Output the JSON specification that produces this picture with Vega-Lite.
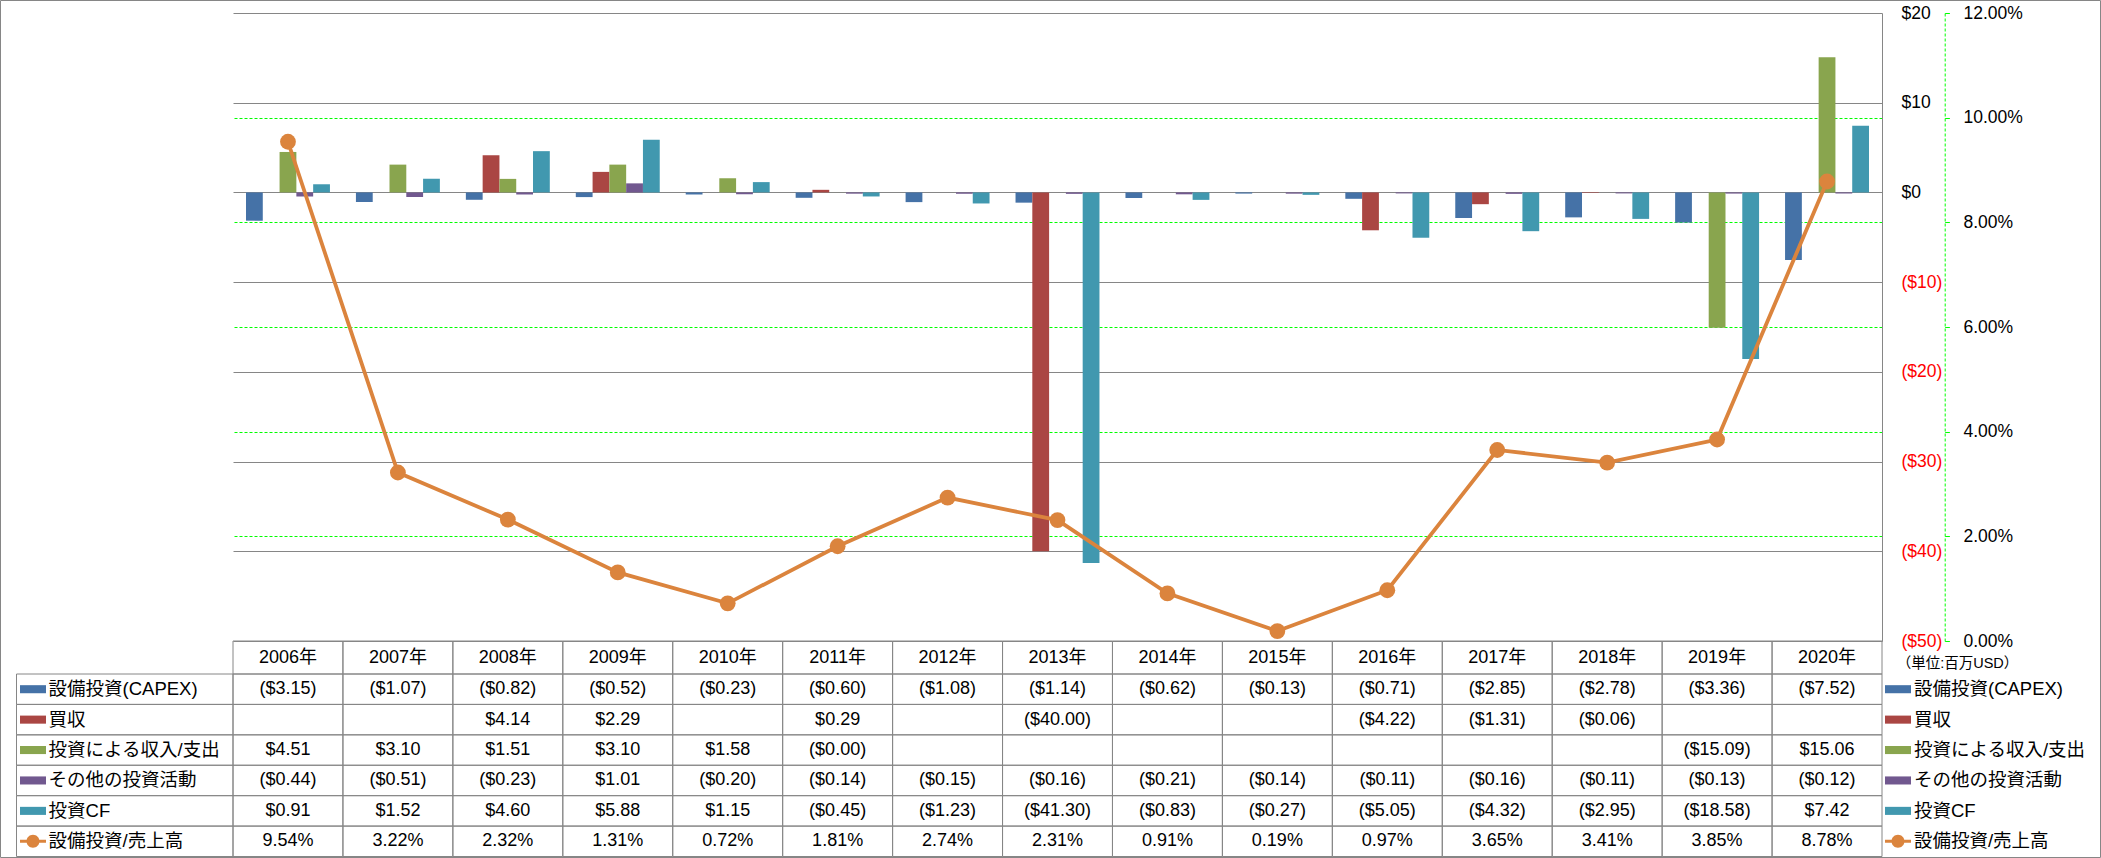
{
"$schema": "https://vega.github.io/schema/vega-lite/v6.json",
"width": 1649, "height": 628,
"autosize": "none",
"padding": {"left": 233, "top": 13, "right": 219, "bottom": 217},
"background": "#ffffff",
"config": {"view": {"stroke": null}, "font": "Liberation Sans, Noto Sans CJK JP"},
"data": {"values": [
{"year":"2006年","item":"設備投資(CAPEX)","value":-3.15},{"year":"2006年","item":"買収","value":null},{"year":"2006年","item":"投資による収入/支出","value":4.51},{"year":"2006年","item":"その他の投資活動","value":-0.44},{"year":"2006年","item":"投資CF","value":0.91},{"year":"2006年","item":"設備投資/売上高","value":0.0954},
{"year":"2007年","item":"設備投資(CAPEX)","value":-1.07},{"year":"2007年","item":"買収","value":null},{"year":"2007年","item":"投資による収入/支出","value":3.10},{"year":"2007年","item":"その他の投資活動","value":-0.51},{"year":"2007年","item":"投資CF","value":1.52},{"year":"2007年","item":"設備投資/売上高","value":0.0322},
{"year":"2008年","item":"設備投資(CAPEX)","value":-0.82},{"year":"2008年","item":"買収","value":4.14},{"year":"2008年","item":"投資による収入/支出","value":1.51},{"year":"2008年","item":"その他の投資活動","value":-0.23},{"year":"2008年","item":"投資CF","value":4.60},{"year":"2008年","item":"設備投資/売上高","value":0.0232},
{"year":"2009年","item":"設備投資(CAPEX)","value":-0.52},{"year":"2009年","item":"買収","value":2.29},{"year":"2009年","item":"投資による収入/支出","value":3.10},{"year":"2009年","item":"その他の投資活動","value":1.01},{"year":"2009年","item":"投資CF","value":5.88},{"year":"2009年","item":"設備投資/売上高","value":0.0131},
{"year":"2010年","item":"設備投資(CAPEX)","value":-0.23},{"year":"2010年","item":"買収","value":null},{"year":"2010年","item":"投資による収入/支出","value":1.58},{"year":"2010年","item":"その他の投資活動","value":-0.20},{"year":"2010年","item":"投資CF","value":1.15},{"year":"2010年","item":"設備投資/売上高","value":0.0072},
{"year":"2011年","item":"設備投資(CAPEX)","value":-0.60},{"year":"2011年","item":"買収","value":0.29},{"year":"2011年","item":"投資による収入/支出","value":-0.004},{"year":"2011年","item":"その他の投資活動","value":-0.14},{"year":"2011年","item":"投資CF","value":-0.45},{"year":"2011年","item":"設備投資/売上高","value":0.0181},
{"year":"2012年","item":"設備投資(CAPEX)","value":-1.08},{"year":"2012年","item":"買収","value":null},{"year":"2012年","item":"投資による収入/支出","value":null},{"year":"2012年","item":"その他の投資活動","value":-0.15},{"year":"2012年","item":"投資CF","value":-1.23},{"year":"2012年","item":"設備投資/売上高","value":0.0274},
{"year":"2013年","item":"設備投資(CAPEX)","value":-1.14},{"year":"2013年","item":"買収","value":-40.00},{"year":"2013年","item":"投資による収入/支出","value":null},{"year":"2013年","item":"その他の投資活動","value":-0.16},{"year":"2013年","item":"投資CF","value":-41.30},{"year":"2013年","item":"設備投資/売上高","value":0.0231},
{"year":"2014年","item":"設備投資(CAPEX)","value":-0.62},{"year":"2014年","item":"買収","value":null},{"year":"2014年","item":"投資による収入/支出","value":null},{"year":"2014年","item":"その他の投資活動","value":-0.21},{"year":"2014年","item":"投資CF","value":-0.83},{"year":"2014年","item":"設備投資/売上高","value":0.0091},
{"year":"2015年","item":"設備投資(CAPEX)","value":-0.13},{"year":"2015年","item":"買収","value":null},{"year":"2015年","item":"投資による収入/支出","value":null},{"year":"2015年","item":"その他の投資活動","value":-0.14},{"year":"2015年","item":"投資CF","value":-0.27},{"year":"2015年","item":"設備投資/売上高","value":0.0019},
{"year":"2016年","item":"設備投資(CAPEX)","value":-0.71},{"year":"2016年","item":"買収","value":-4.22},{"year":"2016年","item":"投資による収入/支出","value":null},{"year":"2016年","item":"その他の投資活動","value":-0.11},{"year":"2016年","item":"投資CF","value":-5.05},{"year":"2016年","item":"設備投資/売上高","value":0.0097},
{"year":"2017年","item":"設備投資(CAPEX)","value":-2.85},{"year":"2017年","item":"買収","value":-1.31},{"year":"2017年","item":"投資による収入/支出","value":null},{"year":"2017年","item":"その他の投資活動","value":-0.16},{"year":"2017年","item":"投資CF","value":-4.32},{"year":"2017年","item":"設備投資/売上高","value":0.0365},
{"year":"2018年","item":"設備投資(CAPEX)","value":-2.78},{"year":"2018年","item":"買収","value":-0.06},{"year":"2018年","item":"投資による収入/支出","value":null},{"year":"2018年","item":"その他の投資活動","value":-0.11},{"year":"2018年","item":"投資CF","value":-2.95},{"year":"2018年","item":"設備投資/売上高","value":0.0341},
{"year":"2019年","item":"設備投資(CAPEX)","value":-3.36},{"year":"2019年","item":"買収","value":null},{"year":"2019年","item":"投資による収入/支出","value":-15.09},{"year":"2019年","item":"その他の投資活動","value":-0.13},{"year":"2019年","item":"投資CF","value":-18.58},{"year":"2019年","item":"設備投資/売上高","value":0.0385},
{"year":"2020年","item":"設備投資(CAPEX)","value":-7.52},{"year":"2020年","item":"買収","value":null},{"year":"2020年","item":"投資による収入/支出","value":15.06},{"year":"2020年","item":"その他の投資活動","value":-0.12},{"year":"2020年","item":"投資CF","value":7.42},{"year":"2020年","item":"設備投資/売上高","value":0.0878}
]},
"layer": [
{"transform": [{"aggregate": [{"op": "count", "as": "n"}]}],
 "mark": {"type": "rect", "filled": false, "stroke": "#868686", "strokeWidth": 1},
 "encoding": {
  "x": {"datum": "枠", "type": "nominal", "scale": {"type": "band", "domain": ["枠"], "range": [-232.5, 1867.5], "paddingInner": 0, "paddingOuter": 0}, "axis": null},
  "y": {"datum": "枠", "type": "nominal", "scale": {"type": "band", "domain": ["枠"], "range": [-12.5, 844.5], "paddingInner": 0, "paddingOuter": 0}, "axis": null}}},
{"mark": {"type": "rect", "filled": false, "stroke": "#868686", "strokeWidth": 1},
 "encoding": {
  "x": {"field": "year", "type": "nominal", "scale": {"type": "band", "domain": ["2006年","2007年","2008年","2009年","2010年","2011年","2012年","2013年","2014年","2015年","2016年","2017年","2018年","2019年","2020年"], "paddingInner": 0, "paddingOuter": 0}, "axis": null},
  "y": {"field": "item", "type": "nominal", "scale": {"type": "band", "domain": ["設備投資(CAPEX)","買収","投資による収入/支出","その他の投資活動","投資CF","設備投資/売上高"], "range": [661, 843.5], "paddingInner": 0, "paddingOuter": 0}, "axis": null}}},
{"transform": [{"filter": "datum.item == '設備投資/売上高'"}],
 "mark": {"type": "rect", "filled": false, "stroke": "#868686", "strokeWidth": 1},
 "encoding": {
  "x": {"field": "year", "type": "nominal", "scale": {"type": "band", "domain": ["2006年","2007年","2008年","2009年","2010年","2011年","2012年","2013年","2014年","2015年","2016年","2017年","2018年","2019年","2020年"], "paddingInner": 0, "paddingOuter": 0}, "axis": null},
  "y": {"datum": "年", "type": "nominal", "scale": {"type": "band", "domain": ["年"], "range": [628, 661], "paddingInner": 0, "paddingOuter": 0}, "axis": null}}},
{"transform": [{"filter": "datum.item == '設備投資/売上高'"}],
 "mark": {"type": "text", "fontSize": 18, "color": "#000000", "baseline": "middle", "align": "center"},
 "encoding": {
  "x": {"field": "year", "type": "nominal", "scale": {"type": "band", "domain": ["2006年","2007年","2008年","2009年","2010年","2011年","2012年","2013年","2014年","2015年","2016年","2017年","2018年","2019年","2020年"], "paddingInner": 0, "paddingOuter": 0}, "axis": null},
  "y": {"datum": "年", "type": "nominal", "scale": {"type": "band", "domain": ["年"], "range": [628, 661], "paddingInner": 0, "paddingOuter": 0}, "axis": null},
  "text": {"field": "year"}}},
{"transform": [{"aggregate": [{"op": "count", "as": "n"}], "groupby": ["item"]}],
 "mark": {"type": "rect", "filled": false, "stroke": "#868686", "strokeWidth": 1},
 "encoding": {
  "x": {"datum": "項目", "type": "nominal", "scale": {"type": "band", "domain": ["項目"], "range": [-216.5, 0], "paddingInner": 0, "paddingOuter": 0}, "axis": null},
  "y": {"field": "item", "type": "nominal", "scale": {"type": "band", "domain": ["設備投資(CAPEX)","買収","投資による収入/支出","その他の投資活動","投資CF","設備投資/売上高"], "range": [661, 843.5], "paddingInner": 0, "paddingOuter": 0}, "axis": null}}},
{"transform": [{"aggregate": [{"op": "count", "as": "n"}], "groupby": ["item"]}],
 "mark": {"type": "point", "filled": true, "size": 676, "opacity": 1, "strokeWidth": 0},
 "encoding": {
  "x": {"datum": "項目", "type": "nominal", "bandPosition": 0.0762, "scale": {"type": "band", "domain": ["項目"], "range": [-216.5, 0], "paddingInner": 0, "paddingOuter": 0}, "axis": null},
  "y": {"field": "item", "type": "nominal", "scale": {"type": "band", "domain": ["設備投資(CAPEX)","買収","投資による収入/支出","その他の投資活動","投資CF","設備投資/売上高"], "range": [661, 843.5], "paddingInner": 0, "paddingOuter": 0}, "axis": null},
  "color": {"field": "item", "type": "nominal", "scale": {"domain": ["設備投資(CAPEX)","買収","投資による収入/支出","その他の投資活動","投資CF","設備投資/売上高"], "range": ["#4572A7","#AA4643","#89A54E","#71588F","#4198AF","#DB843D"]}, "legend": null},
  "shape": {"field": "item", "type": "nominal", "scale": {"domain": ["設備投資(CAPEX)","買収","投資による収入/支出","その他の投資活動","投資CF","設備投資/売上高"], "range": ["M-1,-0.31H1V0.31H-1Z","M-1,-0.31H1V0.31H-1Z","M-1,-0.31H1V0.31H-1Z","M-1,-0.31H1V0.31H-1Z","M-1,-0.31H1V0.31H-1Z","M-1,-0.12H1V0.12H-1Z M0.5,0A0.5,0.5,0,1,1,-0.5,0A0.5,0.5,0,1,1,0.5,0Z"]}, "legend": null}}},
{"transform": [{"aggregate": [{"op": "count", "as": "n"}], "groupby": ["item"]}],
 "mark": {"type": "text", "fontSize": 18.5, "color": "#000000", "align": "left", "baseline": "middle"},
 "encoding": {
  "x": {"datum": "項目", "type": "nominal", "bandPosition": 0.148, "scale": {"type": "band", "domain": ["項目"], "range": [-216.5, 0], "paddingInner": 0, "paddingOuter": 0}, "axis": null},
  "y": {"field": "item", "type": "nominal", "scale": {"type": "band", "domain": ["設備投資(CAPEX)","買収","投資による収入/支出","その他の投資活動","投資CF","設備投資/売上高"], "range": [661, 843.5], "paddingInner": 0, "paddingOuter": 0}, "axis": null},
  "text": {"field": "item"}}},
{"transform": [{"aggregate": [{"op": "count", "as": "n"}], "groupby": ["item"]}],
 "mark": {"type": "point", "filled": true, "size": 676, "opacity": 1, "strokeWidth": 0},
 "encoding": {
  "x": {"datum": "凡例", "type": "nominal", "bandPosition": 0.061, "scale": {"type": "band", "domain": ["凡例"], "range": [1652, 1865], "paddingInner": 0, "paddingOuter": 0}, "axis": null},
  "y": {"field": "item", "type": "nominal", "scale": {"type": "band", "domain": ["設備投資(CAPEX)","買収","投資による収入/支出","その他の投資活動","投資CF","設備投資/売上高"], "range": [661, 843.5], "paddingInner": 0, "paddingOuter": 0}, "axis": null},
  "color": {"field": "item", "type": "nominal", "scale": {"domain": ["設備投資(CAPEX)","買収","投資による収入/支出","その他の投資活動","投資CF","設備投資/売上高"], "range": ["#4572A7","#AA4643","#89A54E","#71588F","#4198AF","#DB843D"]}, "legend": null},
  "shape": {"field": "item", "type": "nominal", "scale": {"domain": ["設備投資(CAPEX)","買収","投資による収入/支出","その他の投資活動","投資CF","設備投資/売上高"], "range": ["M-1,-0.31H1V0.31H-1Z","M-1,-0.31H1V0.31H-1Z","M-1,-0.31H1V0.31H-1Z","M-1,-0.31H1V0.31H-1Z","M-1,-0.31H1V0.31H-1Z","M-1,-0.12H1V0.12H-1Z M0.5,0A0.5,0.5,0,1,1,-0.5,0A0.5,0.5,0,1,1,0.5,0Z"]}, "legend": null}}},
{"transform": [{"aggregate": [{"op": "count", "as": "n"}], "groupby": ["item"]}],
 "mark": {"type": "text", "fontSize": 18.5, "color": "#000000", "align": "left", "baseline": "middle"},
 "encoding": {
  "x": {"datum": "凡例", "type": "nominal", "bandPosition": 0.136, "scale": {"type": "band", "domain": ["凡例"], "range": [1652, 1865], "paddingInner": 0, "paddingOuter": 0}, "axis": null},
  "y": {"field": "item", "type": "nominal", "scale": {"type": "band", "domain": ["設備投資(CAPEX)","買収","投資による収入/支出","その他の投資活動","投資CF","設備投資/売上高"], "range": [661, 843.5], "paddingInner": 0, "paddingOuter": 0}, "axis": null},
  "text": {"field": "item"}}},
{"mark": {"type": "text", "fontSize": 18, "color": "#000000", "align": "center", "baseline": "middle",
   "text": {"expr": "datum.value == null ? '' : datum.item == '設備投資/売上高' ? format(datum.value, '.2%') : datum.value < 0 ? '($' + format(-datum.value, '.2f') + ')' : '$' + format(datum.value, '.2f')"}},
 "encoding": {
  "x": {"field": "year", "type": "nominal", "scale": {"type": "band", "domain": ["2006年","2007年","2008年","2009年","2010年","2011年","2012年","2013年","2014年","2015年","2016年","2017年","2018年","2019年","2020年"], "paddingInner": 0, "paddingOuter": 0}, "axis": null},
  "y": {"field": "item", "type": "nominal", "scale": {"type": "band", "domain": ["設備投資(CAPEX)","買収","投資による収入/支出","その他の投資活動","投資CF","設備投資/売上高"], "range": [661, 843.5], "paddingInner": 0, "paddingOuter": 0}, "axis": null}}},
{"transform": [{"filter": "datum.value != null && datum.item != '設備投資/売上高'"}],
 "mark": {"type": "bar", "opacity": 1},
 "encoding": {
  "x": {"field": "year", "type": "nominal", "scale": {"type": "band", "domain": ["2006年","2007年","2008年","2009年","2010年","2011年","2012年","2013年","2014年","2015年","2016年","2017年","2018年","2019年","2020年"], "paddingInner": 0, "paddingOuter": 0}, "axis": null},
  "xOffset": {"field": "item", "type": "nominal", "scale": {"type": "band", "domain": ["設備投資(CAPEX)","買収","投資による収入/支出","その他の投資活動","投資CF"], "paddingInner": 0, "paddingOuter": 0.774}},
  "y": {"field": "value", "type": "quantitative", "scale": {"domain": [-50, 20], "nice": false, "zero": true},
    "axis": {"orient": "right", "offset": 0, "values": [-50,-40,-30,-20,-10,0,10,20],
      "grid": true, "gridColor": "#868686", "gridWidth": 1,
      "domain": true, "domainColor": "#868686", "domainWidth": 1, "ticks": false,
      "labelPadding": 19, "labelFontSize": 17.5, "labelBaseline": "middle", "labelAlign": "left", "labelFlush": false, "labelOverlap": false,
      "labelExpr": "datum.value < 0 ? '($' + abs(datum.value) + ')' : '$' + datum.value",
      "labelColor": {"condition": {"test": "datum.value < 0", "value": "#FF0000"}, "value": "#000000"},
      "title": "（単位:百万USD）", "titleAngle": 0, "titleX": 75, "titleY": 650, "titleAlign": "center", "titleBaseline": "middle", "titleFontSize": 14.5, "titleFontWeight": "normal", "titleColor": "#000000"}},
  "color": {"field": "item", "type": "nominal", "scale": {"domain": ["設備投資(CAPEX)","買収","投資による収入/支出","その他の投資活動","投資CF","設備投資/売上高"], "range": ["#4572A7","#AA4643","#89A54E","#71588F","#4198AF","#DB843D"]}, "legend": null}}},
{"transform": [{"filter": "datum.item == '設備投資/売上高'"}],
 "mark": {"type": "line", "color": "#DB843D", "strokeWidth": 3.8},
 "encoding": {
  "x": {"field": "year", "type": "nominal", "scale": {"type": "band", "domain": ["2006年","2007年","2008年","2009年","2010年","2011年","2012年","2013年","2014年","2015年","2016年","2017年","2018年","2019年","2020年"], "paddingInner": 0, "paddingOuter": 0}, "axis": null},
  "y": {"field": "value", "type": "quantitative", "scale": {"domain": [0, 0.12], "nice": false, "zero": true},
    "axis": {"orient": "right", "offset": 62.7, "values": [0, 0.02, 0.04, 0.06, 0.08, 0.1, 0.12], "format": ".2%",
      "grid": true, "gridColor": "#00FF00", "gridDash": [3, 2], "gridWidth": 1,
      "gridOpacity": {"condition": {"test": "datum.value == 0 || datum.value == 0.12", "value": 0}, "value": 1},
      "domain": true, "domainColor": "#00FF00", "domainDash": [3, 2], "domainWidth": 1,
      "ticks": true, "tickColor": "#00FF00", "tickSize": 4.7, "tickWidth": 1,
      "labelPadding": 13.6, "labelFontSize": 17.5, "labelColor": "#000000", "labelBaseline": "middle", "labelAlign": "left", "labelFlush": false, "labelOverlap": false,
      "title": null}}}},
{"transform": [{"filter": "datum.item == '設備投資/売上高'"}],
 "mark": {"type": "point", "filled": true, "size": 250, "color": "#DB843D", "opacity": 1},
 "encoding": {
  "x": {"field": "year", "type": "nominal", "scale": {"type": "band", "domain": ["2006年","2007年","2008年","2009年","2010年","2011年","2012年","2013年","2014年","2015年","2016年","2017年","2018年","2019年","2020年"], "paddingInner": 0, "paddingOuter": 0}, "axis": null},
  "y": {"field": "value", "type": "quantitative", "scale": {"domain": [0, 0.12], "nice": false, "zero": true}, "axis": null}}}
],
"resolve": {"scale": {"x": "independent", "y": "independent", "xOffset": "independent"}, "axis": {"x": "independent", "y": "independent"}}
}
